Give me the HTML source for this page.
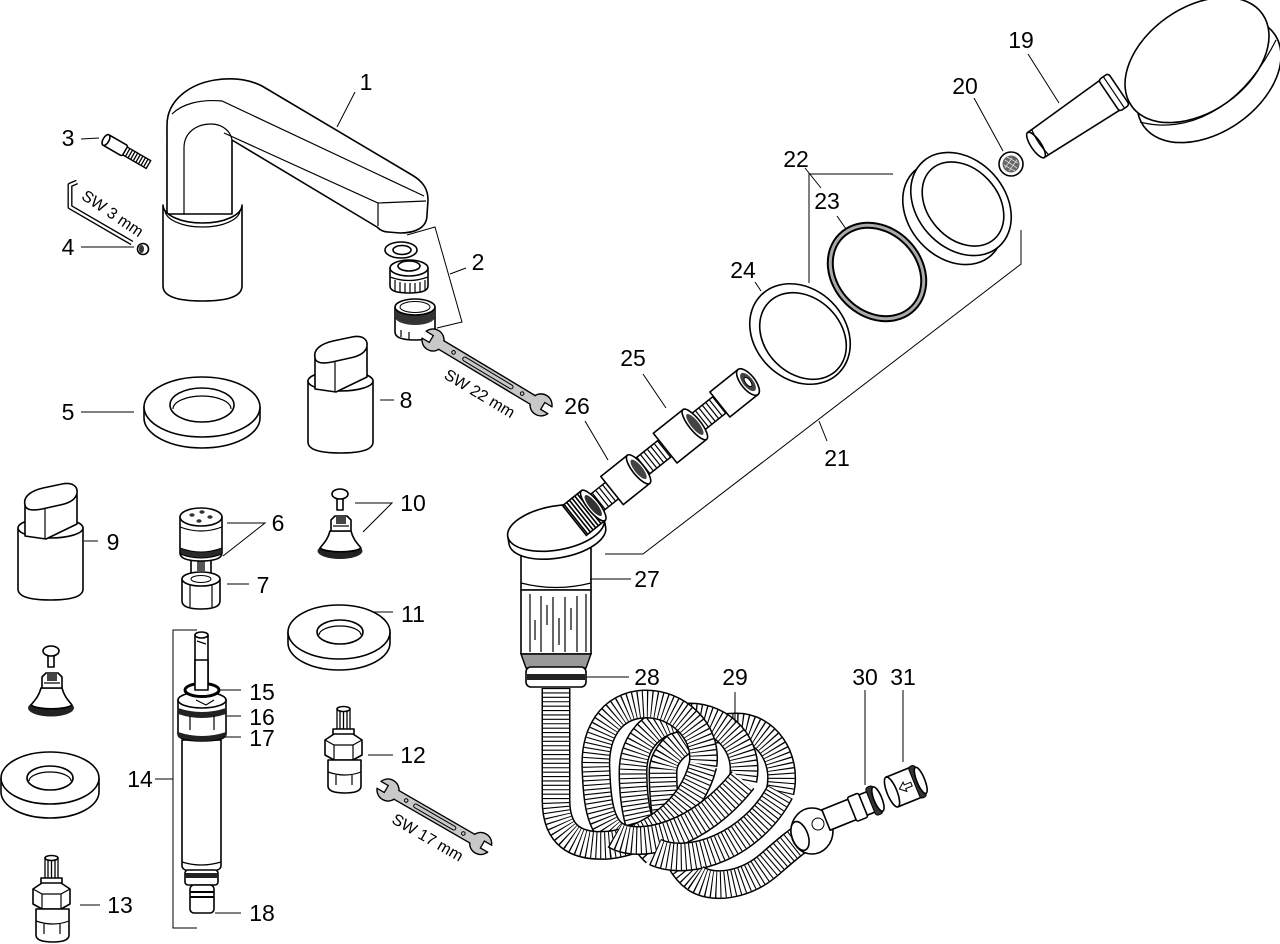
<!DOCTYPE html>
<html><head><meta charset="utf-8"><style>
html,body{margin:0;padding:0;background:#fff;width:1280px;height:944px;overflow:hidden}
svg{display:block}
.l{font-family:"Liberation Sans",Arial,sans-serif;font-size:23px;text-anchor:middle;fill:#000}
.s{font-family:"Liberation Sans",Arial,sans-serif;font-size:16px;text-anchor:middle;fill:#000}
.o{fill:#fff;stroke:#000;stroke-width:1.6;stroke-linejoin:round}
.n{fill:none;stroke:#000;stroke-width:1.2}
.t{fill:none;stroke:#000;stroke-width:1}
.g{fill:#c8c8c8;stroke:#000;stroke-width:1.4}
.k{fill:#2a2a2a;stroke:#000;stroke-width:1}
.ho{fill:none;stroke:#000;stroke-width:29;stroke-linecap:butt}
.hw{fill:none;stroke:#fff;stroke-width:26;stroke-linecap:butt}
.hd{fill:none;stroke:#000;stroke-width:26;stroke-dasharray:1.1 3.3;stroke-linecap:butt}
</style></head><body>
<svg width="1280" height="944" viewBox="0 0 1280 944" xmlns="http://www.w3.org/2000/svg">
<defs>
<path id="b1" d="M703,765 C708,730 676,703 645,704 C610,705 594,735 596,770 C597,800 600,825 615,835"/>
<path id="b2" d="M743,780 C750,745 722,717 690,717 C655,717 633,740 633,772 C633,805 640,840 655,852"/>
<path id="b3" d="M780,792 C788,757 765,727 737,727 C700,727 663,745 663,772 C663,810 670,860 695,878"/>
<path id="f0" d="M556,688 L556,800 C556,835 575,848 610,845 C650,840 692,810 703,765"/>
<path id="f1" d="M615,835 C640,850 700,835 743,780"/>
<path id="f2" d="M655,852 C690,868 752,845 780,792"/>
<path id="f3" d="M695,878 C712,890 745,886 770,864 C785,851 795,842 808,834"/>
</defs>

<!-- ===== Faucet 1 ===== -->
<path class="o" d="M167,214 V125 C167,100 190,84 215,80 C235,77 250,80 262,86 L412,175 C424,182 428,190 428,200 L427,215 C427,228 415,233 400,233 L388,232 C384,232 380,230 377,227 L232,140 V214 Z"/>
<path class="n" d="M184,214 V148 C184,132 197,124 211,124 C223,124 231,132 232,140"/>
<path class="n" d="M172,114 C182,104 200,99 222,101 L424,196"/>
<path class="n" d="M224,133 L378,203 L426,201 M378,203 V226"/>
<path class="o" d="M163,205 A39.5,18 0 0 0 242,205 V286 Q242,301 202.5,301 Q163,301 163,286 Z"/>
<path class="n" d="M165,210 A37.5,17 0 0 0 240,210"/>
<line class="t" x1="355" y1="92" x2="337" y2="127"/>
<text class="l" x="366" y="90">1</text>

<!-- 3 pin -->
<g transform="translate(106,140) rotate(30)">
<rect class="o" x="0" y="-6" width="22" height="12" rx="2"/>
<rect x="22" y="-4.5" width="27" height="9" fill="#fff" stroke="#000" stroke-width="1.4"/>
<path d="M25,-4.5V4.5M28,-4.5V4.5M31,-4.5V4.5M34,-4.5V4.5M37,-4.5V4.5M40,-4.5V4.5M43,-4.5V4.5M46,-4.5V4.5" stroke="#000" stroke-width="1.3"/>
<ellipse class="o" cx="0" cy="0" rx="3" ry="6"/>
</g>
<line class="t" x1="81" y1="139" x2="99" y2="138"/>
<text class="l" x="68" y="146">3</text>

<!-- hex key -->
<polyline points="77,182 70,185 70,207 132,243" fill="none" stroke="#000" stroke-width="5" stroke-linejoin="round"/>
<polyline points="77,182 70,185 70,207 132,243" fill="none" stroke="#fff" stroke-width="2.3" stroke-linejoin="round"/>
<text class="s" transform="translate(113,213) rotate(34)" x="0" y="6" font-size="15">SW 3 mm</text>

<!-- 4 -->
<circle class="o" cx="143" cy="249" r="5.5"/>
<ellipse cx="141.5" cy="249" rx="2.5" ry="4" fill="#333"/>
<line class="t" x1="81" y1="247" x2="134" y2="247"/>
<text class="l" x="68" y="255">4</text>

<!-- 2 group -->
<ellipse class="o" cx="401" cy="250" rx="16" ry="8"/>
<ellipse class="o" cx="402" cy="250" rx="9" ry="4.5"/>
<path class="o" d="M390,268 V286 Q390,293 409,293 Q428,293 428,286 V268 Z"/>
<ellipse class="o" cx="409" cy="268" rx="19" ry="8"/>
<ellipse class="o" cx="409" cy="266" rx="11" ry="5"/>
<path class="n" d="M390,277 Q409,284 428,277 M395,280V291 M400,282V293 M405,283V293 M410,283V293 M415,283V293 M420,282V292 M425,280V290"/>
<path class="o" d="M395,307 V332 Q395,340 415,340 Q435,340 435,332 V307 Z"/>
<path d="M395,307 A20,8 0 0 0 435,307 V317 A20,8 0 0 1 395,317 Z" fill="#333"/>
<ellipse class="o" cx="415" cy="307" rx="20" ry="8"/>
<ellipse cx="415" cy="307" rx="15" ry="5.5" fill="#fff" stroke="#000" stroke-width="1"/>
<path class="n" d="M401,330 V337 M409,332 V339"/>
<polyline class="t" points="407,235 435,227 462,322 437,328"/>
<line class="t" x1="450" y1="274" x2="466" y2="268"/>
<text class="l" x="478" y="270">2</text>

<!-- wrench 22 -->
<g transform="translate(433,340) rotate(31)">
<circle class="g" cx="0" cy="0" r="11"/>
<rect x="-12" y="-4" width="10" height="8" fill="#fff"/>
<path d="M-11,-4 H-2 V4 H-11" fill="none" stroke="#000" stroke-width="1.3"/>
<circle class="g" cx="126" cy="0" r="11"/>
<rect x="128" y="-4" width="10" height="8" fill="#fff"/>
<path d="M137,-4 H128 V4 H137" fill="none" stroke="#000" stroke-width="1.3"/>
<rect x="8" y="-5" width="110" height="10" fill="#c8c8c8"/>
<path d="M9,-5 H117 M9,5 H117" stroke="#000" stroke-width="1.4"/>
<rect x="35" y="-2" width="58" height="4" rx="2" fill="none" stroke="#000" stroke-width="1"/>
<circle cx="24" cy="0" r="1.8" fill="none" stroke="#000"/>
<circle cx="104" cy="0" r="1.8" fill="none" stroke="#000"/>
</g>
<text class="s" transform="translate(480,393) rotate(31)" x="0" y="6">SW 22 mm</text>

<!-- 5 ring -->
<path class="o" d="M144,407 V418 A58,30 0 0 0 260,418 V407 Z"/>
<ellipse class="o" cx="202" cy="407" rx="58" ry="30"/>
<ellipse class="o" cx="202" cy="405" rx="32" ry="17"/>
<path class="n" d="M173,409 A29,13 0 0 1 231,409"/>
<line class="t" x1="81" y1="412" x2="134" y2="412"/>
<text class="l" x="68" y="420">5</text>

<!-- 8 knob -->
<g>
<path class="o" d="M308,381 V442 Q308,453 340.5,453 Q373,453 373,442 V381 Z"/>
<ellipse class="o" cx="340.5" cy="381" rx="32.5" ry="10"/>
<path class="o" d="M315,358 L315,389 L336,392 L367,377 L367,347 Z"/>
<path class="o" d="M315,358 C313,350 320,344 333,341 L352,337 C362,335 368,339 367,346 C366,352 360,356 350,358 L332,362 C322,364 316,363 315,358 Z"/>
<line class="n" x1="335" y1="362" x2="335" y2="392"/>
</g>
<line class="t" x1="380" y1="400" x2="394" y2="400"/>
<text class="l" x="406" y="408">8</text>

<!-- 9 knob -->
<g transform="translate(-290,147)">
<path class="o" d="M308,381 V442 Q308,453 340.5,453 Q373,453 373,442 V381 Z"/>
<ellipse class="o" cx="340.5" cy="381" rx="32.5" ry="10"/>
<path class="o" d="M315,358 L315,389 L336,392 L367,377 L367,347 Z"/>
<path class="o" d="M315,358 C313,350 320,344 333,341 L352,337 C362,335 368,339 367,346 C366,352 360,356 350,358 L332,362 C322,364 316,363 315,358 Z"/>
<line class="n" x1="335" y1="362" x2="335" y2="392"/>
</g>
<line class="t" x1="84" y1="541" x2="98" y2="541"/>
<text class="l" x="113" y="550">9</text>

<!-- 6 / 7 -->
<rect class="o" x="191" y="558" width="20" height="18"/>
<rect x="197" y="561" width="8" height="10" fill="#555"/>
<path class="o" d="M182,579 V601 Q182,609 201,609 Q220,609 220,601 V579 Z"/>
<ellipse class="o" cx="201" cy="579" rx="19" ry="7"/>
<ellipse cx="201" cy="579" rx="10" ry="3.5" fill="#fff" stroke="#000" stroke-width="1"/>
<path class="n" d="M190,585 V607 M212,585 V607"/>
<path class="o" d="M180,517 V553 Q180,561 201,561 Q222,561 222,553 V517 Z"/>
<path class="k" d="M180,548 Q201,556 222,548 V554 Q201,562 180,554 Z"/>
<ellipse class="o" cx="201" cy="517" rx="21" ry="9"/>
<path class="n" d="M180,527 Q201,535 222,527"/>
<ellipse cx="192" cy="515" rx="2.6" ry="1.8" fill="#333"/>
<ellipse cx="202" cy="512" rx="2.6" ry="1.8" fill="#333"/>
<ellipse cx="210" cy="517" rx="2.6" ry="1.8" fill="#333"/>
<ellipse cx="199" cy="521" rx="2.6" ry="1.8" fill="#333"/>
<polyline class="t" points="227,523 265,523 223,556"/>
<text class="l" x="278" y="531">6</text>
<line class="t" x1="227" y1="584" x2="249" y2="584"/>
<text class="l" x="263" y="593">7</text>

<!-- 10 cartridge -->
<g>
<rect class="o" x="337" y="496" width="6" height="14"/>
<ellipse class="o" cx="340" cy="494" rx="8" ry="5"/>
<ellipse cx="340" cy="551" rx="22.5" ry="8" fill="#222"/>
<path class="o" d="M320,548 C324,543 328,539 330,531 L351,531 C353,539 357,543 361,548 C355,553 326,553 320,548 Z"/>
<path class="o" d="M331,531 V520 L335,516 H347 L351,520 V531 Z"/>
<rect x="336" y="517" width="10" height="7" fill="#444"/>
<path class="n" d="M333,526 H349"/>
</g>
<polyline class="t" points="355,503 392,503 363,532"/>
<text class="l" x="413" y="511">10</text>

<!-- left cartridge -->
<g transform="translate(-289,157)">
<rect class="o" x="337" y="496" width="6" height="14"/>
<ellipse class="o" cx="340" cy="494" rx="8" ry="5"/>
<ellipse cx="340" cy="551" rx="23" ry="8.5" fill="#222"/>
<path class="o" d="M320,548 C324,543 328,539 330,531 L351,531 C353,539 357,543 361,548 C355,553 326,553 320,548 Z"/>
<path class="o" d="M331,531 V520 L335,516 H347 L351,520 V531 Z"/>
<rect x="336" y="517" width="10" height="7" fill="#444"/>
<path class="n" d="M333,526 H349"/>
</g>

<!-- 11 ring -->
<path class="o" d="M288,632 V643 A51,27 0 0 0 390,643 V632 Z"/>
<ellipse class="o" cx="339" cy="632" rx="51" ry="27"/>
<ellipse class="o" cx="340" cy="632" rx="23" ry="12"/>
<path class="n" d="M319,635 A21,9 0 0 1 361,635"/>
<line class="t" x1="373" y1="612" x2="393" y2="612"/>
<text class="l" x="413" y="622">11</text>

<!-- left ring -->
<path class="o" d="M1,778 V792 A49,26 0 0 0 99,792 V778 Z"/>
<ellipse class="o" cx="50" cy="778" rx="49" ry="26"/>
<ellipse class="o" cx="50" cy="778" rx="23" ry="12"/>
<path class="n" d="M29,781 A21,9 0 0 1 71,781"/>

<!-- 12 cartridge -->
<g>
<rect x="337" y="709" width="13" height="22" fill="#fff" stroke="#000" stroke-width="1.3"/>
<path d="M340,710V730 M343.5,710V730 M347,710V730" stroke="#000" stroke-width="1.3"/>
<ellipse class="o" cx="343.5" cy="709" rx="6.5" ry="2.5"/>
<rect class="o" x="333" y="729" width="21" height="6"/>
<path class="o" d="M325,740 L334,734 L353,734 L362,740 V755 L353,760 L334,760 L325,755 Z"/>
<path class="n" d="M325,740 L334,745 L353,745 L362,740 M334,745 V760 M353,745 V760"/>
<path class="o" d="M328,760 V786 Q328,793 345,793 Q361,793 361,786 V760 Z"/>
<path class="n" d="M328,772 Q345,778 361,772 M336,775 V785 M352,775 V785"/>
</g>
<line class="t" x1="368" y1="755" x2="393" y2="755"/>
<text class="l" x="413" y="763">12</text>

<!-- 13 cartridge -->
<g transform="translate(-292,149)">
<rect x="337" y="709" width="13" height="22" fill="#fff" stroke="#000" stroke-width="1.3"/>
<path d="M340,710V730 M343.5,710V730 M347,710V730" stroke="#000" stroke-width="1.3"/>
<ellipse class="o" cx="343.5" cy="709" rx="6.5" ry="2.5"/>
<rect class="o" x="333" y="729" width="21" height="6"/>
<path class="o" d="M325,740 L334,734 L353,734 L362,740 V755 L353,760 L334,760 L325,755 Z"/>
<path class="n" d="M325,740 L334,745 L353,745 L362,740 M334,745 V760 M353,745 V760"/>
<path class="o" d="M328,760 V786 Q328,793 345,793 Q361,793 361,786 V760 Z"/>
<path class="n" d="M328,772 Q345,778 361,772 M336,775 V785 M352,775 V785"/>
</g>
<line class="t" x1="80" y1="905" x2="100" y2="905"/>
<text class="l" x="120" y="913">13</text>

<!-- wrench 17 -->
<g transform="translate(388,790) rotate(30)">
<circle class="g" cx="0" cy="0" r="11"/>
<rect x="-12" y="-4" width="10" height="8" fill="#fff"/>
<path d="M-11,-4 H-2 V4 H-11" fill="none" stroke="#000" stroke-width="1.3"/>
<circle class="g" cx="107" cy="0" r="11"/>
<rect x="109" y="-4" width="10" height="8" fill="#fff"/>
<path d="M118,-4 H109 V4 H118" fill="none" stroke="#000" stroke-width="1.3"/>
<rect x="8" y="-5" width="91" height="10" fill="#c8c8c8"/>
<path d="M9,-5 H98 M9,5 H98" stroke="#000" stroke-width="1.4"/>
<rect x="30" y="-2" width="48" height="4" rx="2" fill="none" stroke="#000" stroke-width="1"/>
<circle cx="21" cy="0" r="1.8" fill="none" stroke="#000"/>
<circle cx="87" cy="0" r="1.8" fill="none" stroke="#000"/>
</g>
<text class="s" transform="translate(428,837) rotate(30)" x="0" y="6">SW 17 mm</text>

<!-- 14 long cartridge -->
<g>
<rect class="o" x="195" y="635" width="13" height="55"/>
<ellipse class="o" cx="201.5" cy="635" rx="6.5" ry="3"/>
<path class="n" d="M197,641 L206,644"/>
<path class="o" d="M182,740 V866 Q182,872 201,872 Q221,872 221,866 V740 Z"/>
<path class="n" d="M182,862 Q201,868 221,862"/>
<rect x="185" y="870" width="33" height="15" rx="3" fill="#fff" stroke="#000" stroke-width="1.6"/>
<rect x="185" y="873" width="33" height="5" fill="#222"/>
<rect class="o" x="190" y="885" width="24" height="28" rx="4"/>
<path d="M190,892 H214 M190,897 H214" stroke="#000" stroke-width="2"/>
<path class="o" d="M178,700 V734 Q178,741 202,741 Q226,741 226,734 V700 Z"/>
<path d="M178,732 Q202,740 226,732 V737 Q202,745 178,737 Z" fill="#222"/>
<path d="M178,708 Q202,716 226,708 V714 Q202,722 178,714 Z" fill="#222"/>
<ellipse class="o" cx="202" cy="700" rx="24" ry="8"/>
<ellipse cx="202" cy="690" rx="17" ry="6.5" fill="#fff" stroke="#000" stroke-width="3"/>
<rect class="o" x="195" y="660" width="13" height="30"/>
<path class="n" d="M190,716 V730 M214,716 V730 M196,700 L206,705 L214,700"/>
</g>
<polyline class="t" points="197,630 173,630 173,928 197,928"/>
<line class="t" x1="155" y1="779" x2="173" y2="779"/>
<text class="l" x="140" y="787">14</text>
<line class="t" x1="218" y1="690" x2="241" y2="690"/>
<text class="l" x="262" y="700">15</text>
<line class="t" x1="227" y1="716" x2="241" y2="716"/>
<text class="l" x="262" y="725">16</text>
<line class="t" x1="223" y1="737" x2="241" y2="737"/>
<text class="l" x="262" y="746">17</text>
<line class="t" x1="215" y1="913" x2="241" y2="913"/>
<text class="l" x="262" y="921">18</text>

<!-- ===== Hand shower 19 ===== -->
<ellipse class="o" cx="1209" cy="80" rx="80" ry="52" transform="rotate(-35 1209 80)"/>
<ellipse class="o" cx="1197" cy="60" rx="80" ry="52" transform="rotate(-35 1197 60)"/>
<path class="n" d="M1140,122 C1185,134 1240,112 1276,40"/>
<g transform="translate(1036,145) rotate(-34)">
<path class="o" d="M0,-15 L90,-18 L90,18 L0,15 Z"/>
<ellipse class="o" cx="0" cy="0" rx="5" ry="15"/>
<path class="n" d="M5,-15 Q2,0 5,15"/>
<rect class="o" x="88" y="-19" width="12" height="38" rx="3"/>
<line class="n" x1="94" y1="-19" x2="94" y2="19"/>
</g>
<line class="t" x1="1028" y1="54" x2="1059" y2="103"/>
<text class="l" x="1021" y="48">19</text>

<!-- 20 strainer -->
<circle class="o" cx="1011" cy="164" r="12"/>
<circle cx="1011" cy="164" r="8.5" fill="#666"/>
<path d="M1005,160 L1017,168 M1004,165 L1015,171 M1007,157 L1018,163 M1005,168 L1012,158 M1009,171 L1017,160" stroke="#ddd" stroke-width="0.8"/>
<line class="t" x1="974" y1="98" x2="1003" y2="151"/>
<text class="l" x="965" y="94">20</text>

<!-- ring right (21 group) -->
<ellipse class="o" cx="953" cy="213" rx="57" ry="44" transform="rotate(48 953 213)"/>
<ellipse class="o" cx="961" cy="204" rx="57" ry="44" transform="rotate(48 961 204)"/>
<ellipse class="o" cx="963" cy="204" rx="47" ry="35" transform="rotate(48 963 204)"/>

<!-- ring 23 -->
<ellipse cx="877" cy="272" rx="51" ry="42" transform="rotate(45 877 272)" fill="none" stroke="#000" stroke-width="7"/>
<ellipse cx="877" cy="272" rx="51" ry="42" transform="rotate(45 877 272)" fill="none" stroke="#aaa" stroke-width="3"/>

<!-- ring 24 -->
<ellipse class="o" cx="800" cy="334" rx="55" ry="45" transform="rotate(45 800 334)"/>
<ellipse class="o" cx="803" cy="336" rx="48" ry="38" transform="rotate(45 803 336)"/>

<!-- brackets 22 / 21 -->
<polyline class="t" points="893,174 809,174 809,283"/>
<line class="t" x1="805" y1="168" x2="821" y2="188"/>
<text class="l" x="796" y="167">22</text>
<line class="t" x1="837" y1="216" x2="846" y2="229"/>
<text class="l" x="827" y="209">23</text>
<line class="t" x1="755" y1="282" x2="761" y2="291"/>
<text class="l" x="743" y="278">24</text>
<polyline class="t" points="1021,230 1021,264 643,554 605,554"/>
<line class="t" x1="819" y1="421" x2="827" y2="441"/>
<text class="l" x="837" y="466">21</text>

<!-- ===== hose 29 (back parts first, then front strands) ===== -->
<use href="#b3" class="ho"/><use href="#b3" class="hw"/><use href="#b3" class="hd"/>
<use href="#b2" class="ho"/><use href="#b2" class="hw"/><use href="#b2" class="hd"/>
<use href="#b1" class="ho"/><use href="#b1" class="hw"/><use href="#b1" class="hd"/>
<use href="#f0" class="ho"/><use href="#f0" class="hw"/><use href="#f0" class="hd"/>
<use href="#f1" class="ho"/><use href="#f1" class="hw"/><use href="#f1" class="hd"/>
<use href="#f2" class="ho"/><use href="#f2" class="hw"/><use href="#f2" class="hd"/>
<use href="#f3" class="ho"/><use href="#f3" class="hw"/><use href="#f3" class="hd"/>

<!-- 27 body -->
<rect class="o" x="521" y="548" width="70" height="42"/>
<path class="n" d="M521,583 Q556,592 591,583"/>
<rect class="o" x="521" y="590" width="70" height="64"/>
<path class="n" d="M530,594 V652 M541,596 V652 M553,597 V652 M565,597 V652 M577,596 V652 M586,594 V652"/>
<path class="n" d="M535,620 V640 M547,605 V625 M559,618 V645 M571,608 V630"/>
<path d="M521,654 L526,668 H586 L591,654 Z" fill="#999" stroke="#000" stroke-width="1.4"/>
<rect class="o" x="526" y="667" width="60" height="20" rx="5"/>
<rect x="527" y="674" width="58" height="6" fill="#222"/>
<line class="t" x1="590" y1="579" x2="631" y2="579"/>
<text class="l" x="647" y="587">27</text>
<line class="t" x1="586" y1="677" x2="629" y2="677"/>
<text class="l" x="647" y="685">28</text>
<line class="t" x1="735" y1="692" x2="735" y2="722"/>
<text class="l" x="735" y="685">29</text>

<!-- disk 27 -->
<g transform="rotate(-10 556 528)">
<path class="o" d="M507,528 V536 A49,22 0 0 0 605,536 V528 Z"/>
<ellipse class="o" cx="556" cy="528" rx="49" ry="22"/>
</g>

<!-- 25/26 hose assembly -->
<g transform="translate(748,382) rotate(141.4)">
<rect x="30" y="-10.5" width="180" height="21" fill="#fff" stroke="#000" stroke-width="1.5"/>
<line x1="32" y1="0" x2="208" y2="0" stroke="#000" stroke-width="20" stroke-dasharray="1.2 3.2"/>
<rect x="198" y="-19" width="24" height="38" fill="#fff" stroke="#000" stroke-width="1.6"/>
<line x1="199" y1="0" x2="221" y2="0" stroke="#000" stroke-width="37" stroke-dasharray="1.6 1.8"/>
<ellipse class="o" cx="198" cy="0" rx="6" ry="19"/>
<ellipse cx="198" cy="0" rx="4" ry="13" fill="#333"/>
<rect class="o" x="140" y="-18" width="34" height="36"/>
<ellipse class="o" cx="140" cy="0" rx="6" ry="18"/>
<ellipse cx="140" cy="0" rx="4" ry="12" fill="#444"/>
<rect class="o" x="68" y="-19" width="38" height="38"/>
<ellipse class="o" cx="68" cy="0" rx="6" ry="19"/>
<ellipse cx="68" cy="0" rx="4" ry="13" fill="#444"/>
<rect class="o" x="0" y="-16" width="36" height="32"/>
<ellipse class="o" cx="0" cy="0" rx="7" ry="16"/>
<ellipse cx="0" cy="0" rx="5" ry="11" fill="#444"/>
<ellipse cx="0" cy="0" rx="2.5" ry="5.5" fill="#fff" stroke="#000"/>
</g>
<line class="t" x1="643" y1="374" x2="666" y2="408"/>
<text class="l" x="633" y="366">25</text>
<line class="t" x1="585" y1="421" x2="608" y2="460"/>
<text class="l" x="577" y="414">26</text>

<!-- 30 connector -->
<g>
<ellipse class="o" cx="812" cy="831" rx="21" ry="23"/>
<ellipse class="o" cx="800" cy="836" rx="8" ry="15" transform="rotate(-20 800 836)"/>
<circle cx="818" cy="824" r="6" fill="none" stroke="#000" stroke-width="1"/>
<g transform="translate(826,820) rotate(-22)">
<rect class="o" x="0" y="-11" width="50" height="22"/>
<rect class="o" x="28" y="-13" width="12" height="26" rx="2"/>
<rect x="48" y="-15" width="8" height="30" rx="3" fill="#333" stroke="#000"/>
<ellipse class="o" cx="56" cy="0" rx="4" ry="13"/>
</g>
</g>
<line class="t" x1="865" y1="690" x2="865" y2="785"/>
<text class="l" x="865" y="685">30</text>

<!-- 31 -->
<g transform="translate(892,792) rotate(-22)">
<rect class="o" x="0" y="-16" width="26" height="32"/>
<ellipse class="o" cx="0" cy="0" rx="5" ry="16"/>
<rect x="24" y="-17" width="7" height="34" rx="3" fill="#333" stroke="#000"/>
<ellipse class="o" cx="31" cy="0" rx="4" ry="14"/>
<path d="M8,0 L14,-5 V-2 H21 V2 H14 V5 Z" fill="none" stroke="#000" stroke-width="1"/>
</g>
<line class="t" x1="903" y1="690" x2="903" y2="762"/>
<text class="l" x="903" y="685">31</text>
</svg>
</body></html>
